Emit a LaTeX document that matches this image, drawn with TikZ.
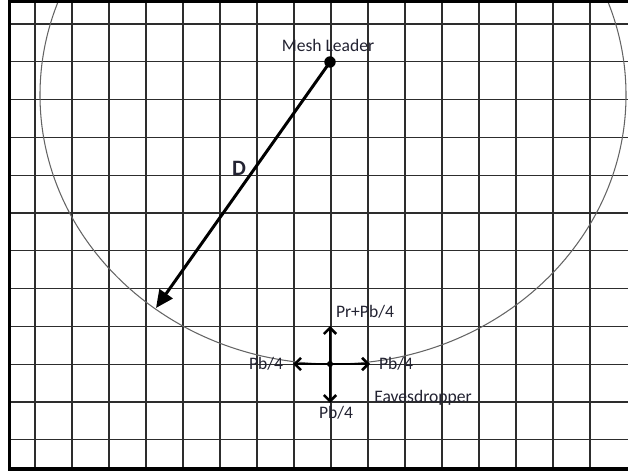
\documentclass[tikz,border=0pt]{standalone}
\usepackage{fontspec}
\setmainfont{Carlito}
\usepackage{xcolor}
\usepackage{tikz}
\usetikzlibrary{arrows.meta,positioning}
\definecolor{gridink}{RGB}{45,45,45}
\definecolor{rangeink}{RGB}{100,100,100}
\definecolor{lblink}  {RGB}{35,35,50}
\tikzset{
  % Grid and frame
  gridline/.style={draw=gridink, line width=0.75pt},
  frameline/.style={draw=black, line width=2pt},
  % Transmission range
  rangeline/.style={draw=rangeink, line width=0.6pt},
  % Nodes
  leaderdot/.style={circle, fill=black, inner sep=0pt, minimum size=6.5pt},
  evedot/.style={circle, fill=black, inner sep=0pt, minimum size=3.5pt},
  lbl/.style={font=\fontsize{10}{12}\selectfont, text=lblink, inner sep=1pt},
  dlbl/.style={font=\fontsize{12.5}{14}\selectfont\bfseries, text=lblink, inner sep=1pt},
  % Arrows
  distarr/.style={-{Triangle[length=10pt,width=9pt]}, line width=1.7pt, draw=black},
  powarr/.style={-{Straight Barb[length=3.5pt,width=7pt]}, line width=1.5pt, draw=black},
}

\begin{document}
\begin{tikzpicture}[x=0.02cm,y=-0.02cm]
    \useasboundingbox (0,0) rectangle (628,472);

    %% ── Grid ───────────────────────────────────────────────
    \begin{scope}
      \clip (9,1) rectangle (628,469);
      \foreach \gx in {0,...,15}
        \draw[gridline] (35+37*\gx,0) -- (35+37*\gx,472);
      \foreach \gy in {0,...,11}
        \draw[gridline] (0,24+37.8*\gy) -- (628,24+37.8*\gy);

      %% Range of the mesh leader
      \draw[rangeline] (333,95) ellipse [x radius=293, y radius=269];
    \end{scope}

    %% ── Frame ──────────────────────────────────────────────
    \draw[frameline] (640,1.5) -- (9.5,1.5) -- (9.5,469) -- (640,469);

    %% ── Mesh leader ────────────────────────────────────────
    \node[leaderdot] (leader) at (330,62) {};
    \node[lbl] (leaderlbl) at (328,45) {Mesh Leader};
    \coordinate (rangeedge) at (156,308);
    \draw[distarr] (leader.center) -- (rangeedge);
    \node[dlbl] (dist) at (239,168) {D};

    %% ── Eavesdropper ───────────────────────────────────────
    \node[evedot] (eve) at (330,364) {};
    \coordinate (up)    at (330,326);
    \coordinate (left)  at (293,364);
    \coordinate (right) at (370,364);
    \coordinate (down)  at (330,403);
    \draw[powarr] (eve.center) -- (up);
    \draw[powarr] (eve.center) -- (left);
    \draw[powarr] (eve.center) -- (right);
    \draw[powarr] (eve.center) -- (down);

    \node[lbl] (puplbl)    at (365,312) {Pr+Pb/4};
    \node[lbl] (pleftlbl)  at (266,364) {Pb/4};
    \node[lbl] (prightlbl) at (396,364) {Pb/4};
    \node[lbl] (pdownlbl)  at (336,413) {Pb/4};
    \node[lbl] (evelbl)    at (423,398) {Eavesdropper};

\end{tikzpicture}
\end{document}
